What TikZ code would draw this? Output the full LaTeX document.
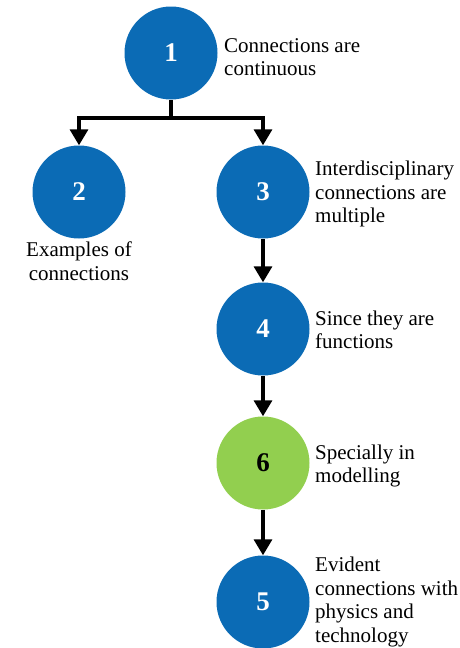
\documentclass[tikz,border=0pt]{standalone}
\usepackage{fontspec}
\setmainfont{Liberation Serif}
\newfontfamily\labelserif{Liberation Serif}
\usetikzlibrary{arrows.meta}
\definecolor{stepblue}{HTML}{0B6BB5}
\definecolor{stepgreen}{HTML}{92CF4F}
\begin{document}
\begin{tikzpicture}[x=1pt,y=-1pt,
  bubble/.style={circle,fill=stepblue,minimum size=93pt,inner sep=0pt,
    text=white,font=\labelserif\fontsize{27}{27}\selectfont\bfseries},
  greenbubble/.style={bubble,fill=stepgreen,text=black},
  caption/.style={align=left,inner sep=0pt,anchor=west,
    font=\labelserif\fontsize{21}{23.5}\selectfont},
  link/.style={line width=3.3pt,draw=black},
  flow/.style={link,-{Triangle[width=18pt,length=16pt]}}]
\useasboundingbox (0,0) rectangle (459,648);
% circles
\node[bubble] (n1) at (171,53) {1};
\node[bubble] (n2) at (79,192) {2};
\node[bubble] (n3) at (263,192) {3};
\node[bubble] (n4) at (263,329) {4};
\node[greenbubble] (n6) at (263,463) {6};
\node[bubble] (n5) at (263,602) {5};
% captions
\node[caption] (t1) at (224,57) {Connections are\\continuous};
\node[caption,anchor=center,align=center] (t2) at (79,261) {Examples of\\connections};
\node[caption] (t3) at (315,194) {Interdisciplinary\\connections are\\multiple};
\node[caption] (t4) at (315,330) {Since they are\\functions};
\node[caption] (t6) at (315,466) {Specially in\\modelling};
\node[caption] (t5) at (315,602) {Evident\\connections with\\physics and\\technology};
% connectors
\coordinate (split) at (171,118);
\draw[link] (n1.south) -- (split);
\draw[flow] ([xshift=1.65pt]split) -| (n2.north);
\draw[flow] ([xshift=-1.65pt]split) -| (n3.north);
\draw[flow] (n3.south) -- (n4.north);
\draw[flow] (n4.south) -- (n6.north);
\draw[flow] (n6.south) -- (n5.north);
\end{tikzpicture}
\end{document}
